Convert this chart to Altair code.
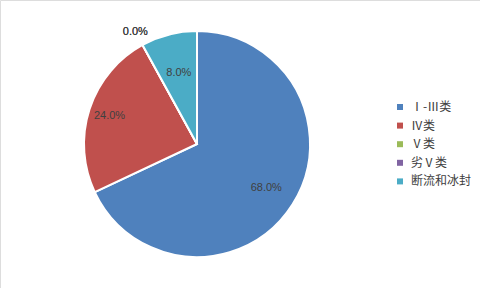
import altair as alt
import pandas as pd
import math

categories = ["Ⅰ-Ⅲ类", "Ⅳ类", "Ⅴ类", "劣Ⅴ类", "断流和冰封"]
values = [68.0, 24.0, 0.0, 0.0, 8.0]
colors = ["#4F81BD", "#C0504D", "#9BBB59", "#8064A2", "#4BACC6"]

df = pd.DataFrame({"cat": categories, "value": values, "idx": list(range(len(categories)))})

CX, CY, R = 197, 144, 113

base = alt.Chart(df).transform_window(
    cum="sum(value)", sort=[alt.SortField("idx")], frame=[None, 0]
).transform_calculate(
    mid="datum.cum - datum.value / 2",
    label="format(datum.value / 100, '.1%')",
)

theta_scale = alt.Scale(domain=[0, 100], range=[0, 2 * math.pi])

pie = alt.Chart(df).mark_arc(radius=R, stroke="white", strokeWidth=2).encode(
    theta=alt.Theta("value:Q", stack=True),
    order=alt.Order("idx:Q"),
    color=alt.Color(
        "cat:N",
        scale=alt.Scale(domain=categories, range=colors),
        sort=categories,
        legend=alt.Legend(
            title=None,
            orient="none",
            legendX=394,
            legendY=101,
            padding=0,
            symbolType="square",
            symbolSize=36,
            symbolStrokeWidth=0,
            labelFontSize=12,
            labelFont="Noto Sans CJK SC",
            labelColor="#404040",
            rowPadding=6.6,
            labelOffset=5,
        ),
    ),
    x=alt.value(CX),
    y=alt.value(CY),
)


def label_layer(cond, radius):
    return base.transform_filter(cond).mark_text(
        radius=radius, fontSize=11, font="Liberation Sans", color="#404040"
    ).encode(
        theta=alt.Theta("mid:Q", scale=theta_scale),
        text="label:N",
        x=alt.value(CX),
        y=alt.value(CY),
    )


labels = [
    label_layer("datum.idx == 0", 82),
    label_layer("datum.idx == 1", 92),
    label_layer("datum.idx == 4", 73),
    label_layer("datum.value == 0", 128),
]

chart = alt.layer(pie, *labels).resolve_scale(theta="independent").properties(
    width=480, height=288, padding=0, autosize=alt.AutoSizeParams(type="none")
).configure_view(stroke="#D9D9D9", strokeWidth=1).configure(background="white")

chart.save("out.html", embed_options={"renderer": "svg", "actions": False})
